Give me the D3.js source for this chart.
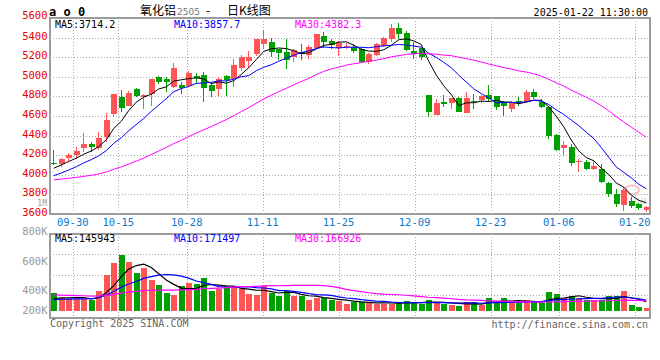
<!DOCTYPE html>
<html><head><meta charset="utf-8">
<script src="https://cdn.jsdelivr.net/npm/d3@7"></script>
<style>html,body{margin:0;padding:0;background:#fff;} svg{display:block;}</style>
</head><body>
<svg id="c" width="660" height="360"></svg>
<script>
// ---------- DATA ----------
const dates = ["09-25","09-26","09-27","09-30","10-08","10-09","10-10","10-11","10-14","10-15","10-16","10-17","10-18","10-21","10-22","10-23","10-24","10-25","10-28","10-29","10-30","10-31","11-01","11-04","11-05","11-06","11-07","11-08","11-11","11-12","11-13","11-14","11-15","11-18","11-19","11-20","11-21","11-22","11-25","11-26","11-27","11-28","11-29","12-02","12-03","12-04","12-05","12-06","12-09","12-10","12-11","12-12","12-13","12-16","12-17","12-18","12-19","12-20","12-23","12-24","12-25","12-26","12-27","12-30","12-31","01-02","01-03","01-06","01-07","01-08","01-09","01-10","01-13","01-14","01-15","01-16","01-17","01-20","01-21","01-22"];
const open  = [4125,4114,4175,4199,4277,4318,4277,4382,4617,4794,4706,4872,4794,4828,4998,4978,4896,4916,4910,5008,5018,4916,4879,5008,4974,5086,5165,5229,5335,5355,5280,5250,5199,5250,5222,5297,5416,5365,5297,5304,5308,5280,5151,5222,5314,5386,5495,5444,5263,5290,4814,4614,4743,4733,4784,4634,4753,4767,4814,4804,4746,4675,4753,4740,4845,4740,4692,4406,4277,4280,4131,4131,4059,4059,3916,3804,3695,3736,3702,3641];
const high  = [4253,4175,4226,4280,4427,4335,4437,4627,4825,4865,4858,4889,4828,4978,5008,4998,5144,4950,5059,5035,5046,4950,4998,5015,5185,5222,5263,5390,5478,5393,5287,5382,5284,5331,5324,5440,5457,5386,5369,5345,5331,5308,5239,5341,5406,5535,5549,5471,5352,5297,4814,4774,4814,4784,4791,4845,4821,4814,4920,4804,4753,4753,4797,4865,4876,4774,4706,4413,4345,4314,4161,4151,4151,4110,3930,3859,3876,3777,3709,3685];
const low   = [4100,4083,4144,4158,4236,4236,4253,4338,4586,4641,4706,4794,4668,4706,4927,4848,4882,4828,4899,4930,4746,4797,4801,4808,4899,5063,5086,5212,5284,5205,5171,5076,5148,5168,5178,5294,5290,5280,5216,5280,5239,5148,5127,5209,5304,5359,5382,5263,5185,5171,4593,4614,4695,4672,4637,4634,4675,4733,4746,4665,4600,4637,4706,4740,4774,4678,4365,4243,4195,4093,4032,4049,4049,3913,3777,3668,3634,3658,3641,3624];
const close = [4120,4158,4206,4246,4318,4287,4376,4559,4825,4685,4835,4801,4814,4978,4950,4944,5093,4882,5039,4988,4889,4855,4974,4967,5120,5202,5202,5386,5386,5250,5246,5171,5277,5229,5304,5437,5359,5324,5345,5318,5263,5154,5233,5331,5396,5495,5437,5274,5233,5205,4644,4733,4726,4784,4644,4784,4740,4804,4770,4695,4706,4729,4729,4848,4797,4695,4399,4253,4304,4124,4141,4059,4090,3923,3804,3706,3850,3682,3658,3675];
const volume = [278000,215000,189000,189000,189000,173000,315000,562000,756000,882000,772000,593000,677000,483000,404000,278000,247000,389000,441000,420000,515000,315000,341000,389000,389000,341000,262000,247000,389000,278000,236000,315000,236000,236000,173000,210000,200000,173000,158000,105000,136000,147000,136000,115000,115000,115000,136000,152000,136000,115000,168000,136000,115000,95000,84000,136000,136000,95000,200000,147000,200000,136000,126000,168000,136000,126000,294000,262000,200000,231000,210000,178000,178000,178000,231000,231000,310000,89000,58000,42000];
// closes and volumes of the 29 sessions before the window (for moving averages)
const priorClose = [3930,3955,3980,3995,3970,3950,3975,3990,3960,3945,3920,3895,3870,3860,3880,3905,3890,3875,3900,3900,3885,3900,3910,3930,3950,3990,4030,4075,4120];
const priorVolume = [300000,320000,280000,260000,310000,290000,270000,300000,330000,280000,260000,290000,310000,300000,270000,280000,300000,290000,270000,270000,170000,155000,160000,165000,160000,165000,175000,170000,182000];
const priceTicks = [5600,5400,5200,5000,4800,4600,4400,4200,4000,3800,3600];
const dateTicks = ["09-30","10-15","10-28","11-11","11-25","12-09","12-23","01-06","01-20"];
const volTickLabels = ["800K","600K","400K","200K"];
const volTickSlots = [0,1,2,3];
const priceLegend = ["MA5:3714.2","MA10:3857.7","MA30:4382.3"];
const volLegend = ["MA5:145943","MA10:171497","MA30:166926"];
const maPeriods = [5,10,30];
const maColors = ["#000000","#0000ff","#ff00ff"];

// ---------- LAYOUT ----------
const L = 50, R = 650, PT = 18, PB = 214, VT = 234, VB = 318, VBase = 311;
const RED = "#ff5555", GREEN = "#00a000", GRID = "#a8a8a8", FRAME = "#9c9c9c";
const MONO = "'DejaVu Sans Mono', monospace";
const CJK = "'Noto Sans CJK SC', sans-serif";

const svg = d3.select("#c");
const idx = d3.range(dates.length);
const x = d3.scaleBand().domain(idx).range([L, R]);
const xc = i => x(i) + x.bandwidth() / 2;
const xGrid = d3.scalePoint().domain(dates).range([L, R]);
const y = d3.scaleLinear().domain([3600, 5600]).range([PB, PT]);
const yV = d3.scaleLinear().domain([0, 1208000]).range([VBase, VT]);
const yVGrid = d3.scaleLinear().domain([0, 4]).range([VT, 315]);
const yVLabel = d3.scaleLinear().domain([0, 1, 2, 3]).range([231, 261, 290.5, 310]);

function movingAvg(prior, data, n) {
  const all = prior.concat(data);
  const off = prior.length;
  return data.map((_, i) => d3.mean(all.slice(off + i - n + 1, off + i + 1)));
}

// ---------- GRID ----------
const g = svg.append("g").attr("shape-rendering", "crispEdges");
priceTicks.filter(v => v !== 5600 && v !== 3600).forEach(v => {
  g.append("line").attr("x1", L).attr("x2", R).attr("y1", Math.round(y(v)) + 0.5).attr("y2", Math.round(y(v)) + 0.5)
    .attr("stroke", GRID).attr("stroke-dasharray", "1,2");
});
[1, 2, 3].forEach(k => {
  g.append("line").attr("x1", L).attr("x2", R).attr("y1", Math.round(yVGrid(k)) + 0.5).attr("y2", Math.round(yVGrid(k)) + 0.5)
    .attr("stroke", GRID).attr("stroke-dasharray", "1,2");
});
dateTicks.forEach(d => {
  const gx = Math.round(xGrid(d)) + 0.5;
  g.append("line").attr("x1", gx).attr("x2", gx).attr("y1", PT).attr("y2", PB).attr("stroke", GRID).attr("stroke-dasharray", "1,2");
  g.append("line").attr("x1", gx).attr("x2", gx).attr("y1", VT).attr("y2", VB).attr("stroke", GRID).attr("stroke-dasharray", "1,2");
});

// ---------- WATERMARK (faint logo) ----------
svg.append("ellipse").attr("cx", 632).attr("cy", 190).attr("rx", 7).attr("ry", 4.5)
  .attr("fill", "none").attr("stroke", "#f4c4c4").attr("stroke-width", 2);
svg.append("text").attr("x", 622).attr("y", 204).attr("font-family", "DejaVu Sans, sans-serif").attr("font-size", 11)
  .attr("font-weight", "bold").attr("font-style", "italic").attr("fill", "#e6e6e6").text("sina");

// ---------- CANDLES ----------
const bw = 6;
const cg = svg.append("g").attr("shape-rendering", "crispEdges");
idx.forEach(i => {
  const up = close[i] >= open[i];
  const col = up ? RED : GREEN;
  const cx = Math.round(xc(i) - 0.5) + 0.5;
  cg.append("line").attr("x1", cx).attr("x2", cx).attr("y1", y(high[i])).attr("y2", y(low[i])).attr("stroke", col);
  const top = y(Math.max(open[i], close[i])), bot = y(Math.min(open[i], close[i]));
  cg.append("rect").attr("x", cx - bw / 2).attr("y", top).attr("width", bw)
    .attr("height", Math.max(1, bot - top)).attr("fill", col);
});

// ---------- PRICE MA LINES ----------
maPeriods.forEach((n, k) => {
  const ma = movingAvg(priorClose, close, n);
  svg.append("path").datum(ma).attr("fill", "none").attr("stroke", maColors[k]).attr("stroke-width", 1)
    .attr("d", d3.line().x((d, i) => xc(i)).y(d => y(d)));
});

// ---------- VOLUME BARS ----------
const vg = svg.append("g").attr("shape-rendering", "crispEdges");
idx.forEach(i => {
  const up = close[i] >= open[i];
  const cx = Math.round(xc(i) - 0.5) + 0.5;
  vg.append("rect").attr("x", cx - bw / 2).attr("y", yV(volume[i])).attr("width", bw)
    .attr("height", yV(0) - yV(volume[i])).attr("fill", up ? RED : GREEN);
});
maPeriods.forEach((n, k) => {
  const ma = movingAvg(priorVolume, volume, n);
  svg.append("path").datum(ma).attr("fill", "none").attr("stroke", maColors[k]).attr("stroke-width", 1.2)
    .attr("d", d3.line().x((d, i) => xc(i)).y(d => yV(d)));
});

// ---------- FRAMES ----------
const fg = svg.append("g").attr("shape-rendering", "crispEdges").attr("fill", "none").attr("stroke", FRAME).attr("stroke-width", 1.5);
fg.append("rect").attr("x", L).attr("y", PT).attr("width", R - L).attr("height", PB - PT);
fg.append("rect").attr("x", L).attr("y", VT).attr("width", R - L).attr("height", VB - VT);

// ---------- AXIS TEXT ----------
priceTicks.forEach(v => {
  svg.append("text").attr("x", 47.5).attr("y", y(v) + (v === 5600 ? 0.6 : 2)).attr("text-anchor", "end")
    .attr("font-family", MONO).attr("font-size", 10.5).attr("fill", "#e60000").text(v);
});
svg.append("text").attr("x", 47).attr("y", 205.5).attr("text-anchor", "end").attr("font-family", MONO)
  .attr("font-size", 8).attr("fill", "#999").text("1M");
dateTicks.forEach(d => {
  svg.append("text").attr("x", xGrid(d)).attr("y", 225.5).attr("text-anchor", "middle")
    .attr("font-family", MONO).attr("font-size", 10.5).attr("fill", "#0b78c8").text(d);
});
volTickSlots.forEach((s, k) => {
  svg.append("text").attr("x", 47.5).attr("y", yVLabel(s) + 3.6).attr("text-anchor", "end")
    .attr("font-family", MONO).attr("font-size", 10.5).attr("fill", "#999").text(volTickLabels[k]);
});

// ---------- LEGENDS ----------
const legX = [55, 174, 295];
priceLegend.forEach((t, k) => {
  svg.append("text").attr("x", legX[k]).attr("y", 27.5).attr("font-family", MONO).attr("font-size", 10)
    .attr("fill", maColors[k]).text(t);
});
volLegend.forEach((t, k) => {
  svg.append("text").attr("x", legX[k]).attr("y", 242).attr("font-family", MONO).attr("font-size", 10)
    .attr("fill", maColors[k]).text(t);
});

// ---------- TITLE / HEADER ----------
svg.append("text").attr("x", 49).attr("y", 16).attr("font-family", MONO).attr("font-size", 12)
  .attr("font-weight", "bold").attr("fill", "#000").text("a o 0");
svg.append("text").attr("x", 140).attr("y", 14.5).attr("font-family", CJK).attr("font-size", 12).attr("fill", "#000").text("氧化铝");
svg.append("text").attr("x", 177).attr("y", 14.5).attr("font-family", "'DejaVu Sans', sans-serif").attr("font-size", 9).attr("fill", "#777").text("2505");
svg.append("text").attr("x", 206).attr("y", 14.5).attr("font-family", CJK).attr("font-size", 12).attr("fill", "#000").text("-");
svg.append("text").attr("x", 227).attr("y", 14.5).attr("font-family", CJK).attr("font-size", 12).attr("fill", "#000").text("日K线图");
svg.append("text").attr("x", 648).attr("y", 15.5).attr("text-anchor", "end").attr("font-family", MONO)
  .attr("font-size", 10).attr("fill", "#000").text("2025-01-22 11:30:00");

// ---------- FOOTER ----------
svg.append("text").attr("x", 50).attr("y", 327).attr("font-family", MONO).attr("font-size", 10)
  .attr("fill", "#666").text("Copyright 2025 SINA.COM");
svg.append("text").attr("x", 648).attr("y", 327.5).attr("text-anchor", "end").attr("font-family", MONO)
  .attr("font-size", 10).attr("fill", "#666").text("http://finance.sina.com.cn");
</script>
</body></html>
